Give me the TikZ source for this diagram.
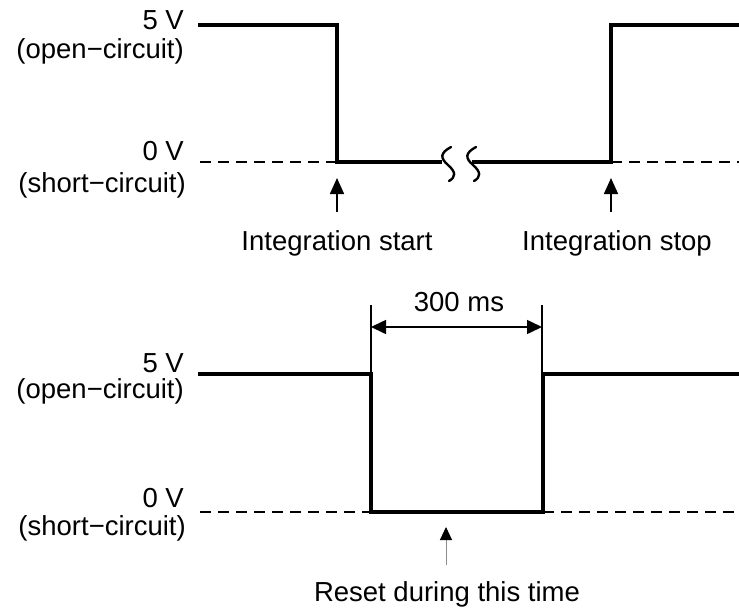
\documentclass[tikz,border=0pt]{standalone}
\usepackage{fontspec}
\setmainfont{Liberation Sans}
\usetikzlibrary{arrows.meta}
\begin{document}
\begin{tikzpicture}[x=1pt,y=-1pt,
  lbl/.style={font=\fontsize{27.5}{32}\selectfont, inner sep=0pt},
  wave/.style={line width=4.5pt, line join=miter, line cap=butt},
  zero/.style={line width=1.5pt, dash pattern=on 11pt off 7pt},
  uparrow/.style={line width=1.6pt, -{Triangle[length=16pt,width=14pt]}},
  dimarrow/.style={line width=1.6pt, {Triangle[length=15pt,width=14pt]}-{Triangle[length=15pt,width=14pt]}},
  brk/.style={line width=2.4pt, line cap=round}]
\useasboundingbox (0,0) rectangle (739,608);
% ---- top waveform ----
\coordinate (t0) at (198,25);
\coordinate (t1) at (337,25);
\coordinate (t2) at (337,162);
\coordinate (t3) at (442,162);
\coordinate (t4) at (472,162);
\coordinate (t5) at (611,162);
\coordinate (t6) at (611,25);
\coordinate (t7) at (739,25);
\coordinate (tz0) at (200,162);
\coordinate (tz1) at (739,162);
\draw[zero] (tz0) -- (t2);
\draw[zero] (t5) -- (tz1);
\draw[wave] (t0) -- (t1) -- (t2) -- (t3);
\draw[wave] (t4) -- (t5) -- (t6) -- (t7);
% break marks
\draw[brk] (451,147) .. controls (440,153) and (440,158) .. (448,165) .. controls (456,172) and (456,177) .. (449,181);
\draw[brk] (476,147) .. controls (465,153) and (465,158) .. (473,165) .. controls (481,172) and (481,177) .. (474,181);
% labels top
\node[lbl, anchor=mid east] (t5v) at (184,27) {5 V};
\node[lbl, anchor=mid east] (topen) at (184,56) {(open−circuit)};
\node[lbl, anchor=mid east] (t0v) at (184,158) {0 V};
\node[lbl, anchor=mid east] (tshort) at (186,190) {(short−circuit)};
% arrows top
\coordinate (as) at (337,212);
\coordinate (ast) at (337,178);
\coordinate (ap) at (611,212);
\coordinate (apt) at (611,178);
\draw[uparrow] (as) -- (ast);
\draw[uparrow] (ap) -- (apt);
\node[lbl] (istart) at (337,243) {Integration start};
\node[lbl] (istop) at (617,243) {Integration stop};
% ---- bottom waveform ----
\coordinate (b0) at (198,374);
\coordinate (b1) at (371,374);
\coordinate (b2) at (371,512);
\coordinate (b3) at (543,512);
\coordinate (b4) at (543,374);
\coordinate (b5) at (739,374);
\coordinate (bz0) at (200,512);
\coordinate (bz1) at (739,512);
\draw[zero] (bz0) -- (b2);
\draw[zero] (b3) -- (bz1);
\draw[wave] (b0) -- (b1) -- (b2) -- (b3) -- (b4) -- (b5);
\node[lbl, anchor=mid east] (b5v) at (184,370) {5 V};
\node[lbl, anchor=mid east] (bopen) at (184,396) {(open−circuit)};
\node[lbl, anchor=mid east] (b0v) at (184,505) {0 V};
\node[lbl, anchor=mid east] (bshort) at (186,533) {(short−circuit)};
% dimension
\coordinate (d1a) at (371,305);
\coordinate (d2a) at (542,305);
\coordinate (d2b) at (542,372);
\coordinate (d1) at (371,327);
\coordinate (d2) at (542,327);
\draw[line width=1.6pt] (d1a) -- (b1);
\draw[line width=1.6pt] (d2a) -- (d2b);
\draw[dimarrow] (d1) -- (d2);
\node[lbl] (ms) at (459,302) {300 ms};
% reset arrow
\coordinate (r0) at (446,565);
\coordinate (r1) at (446,527);
\draw[line width=1pt, color=black!45, -{Triangle[length=13pt,width=12pt,color=black,fill=black]}] (r0) -- (r1);
\node[lbl] (reset) at (447,594) {Reset during this time};
\end{tikzpicture}
\end{document}
